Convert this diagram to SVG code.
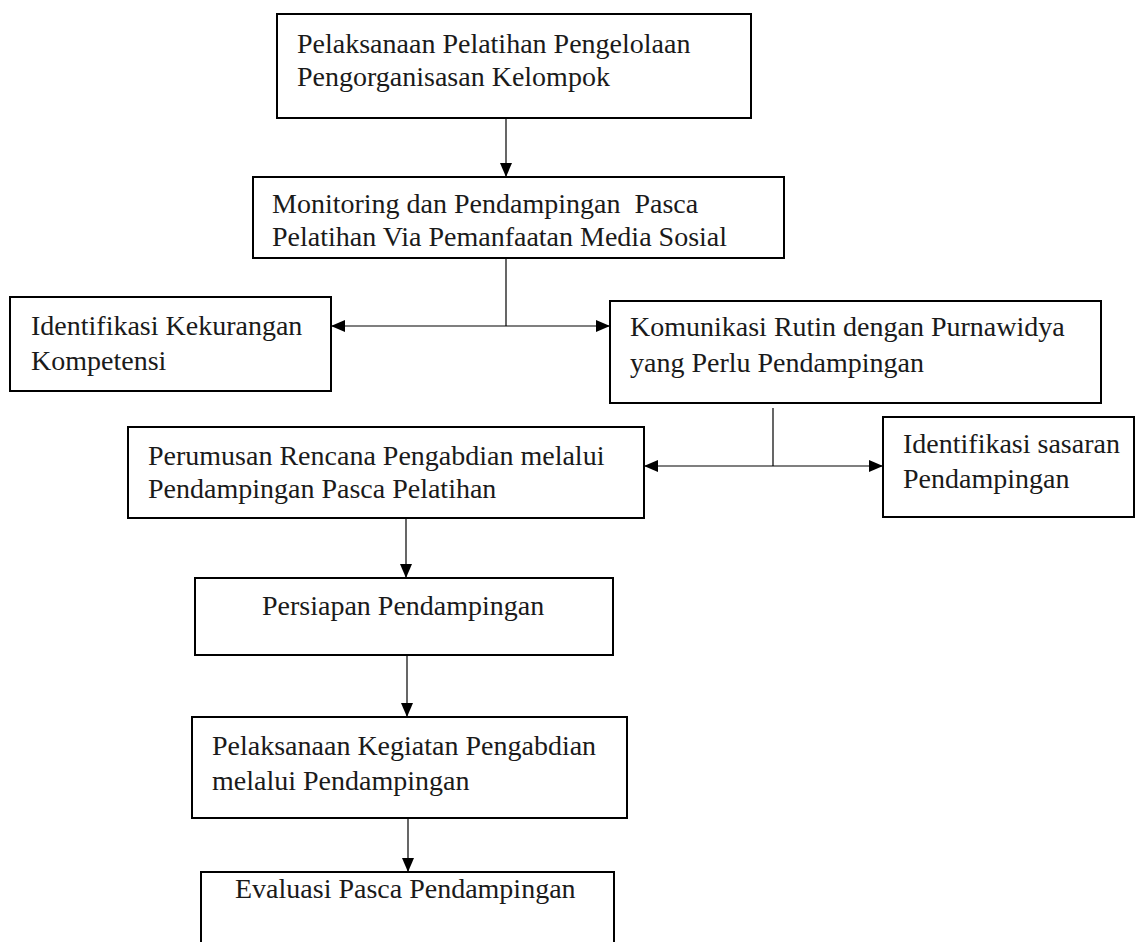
<svg xmlns="http://www.w3.org/2000/svg" width="1138" height="942" viewBox="0 0 1138 942">
<style>
.box{fill:#fff;stroke:#000;stroke-width:2}
.t{font-family:"Liberation Serif","Times New Roman",serif;font-size:28px;fill:#1a1a1a}
.c{fill:none;stroke:#000;stroke-width:1.2}
</style>
<defs>
<marker id="ah" viewBox="0 0 14 12" refX="14" refY="6" markerWidth="14" markerHeight="12" markerUnits="userSpaceOnUse" orient="auto-start-reverse">
<path d="M0,0 L14,6 L0,12 z" fill="#000"/>
</marker>
</defs>
<rect width="1138" height="942" fill="#fff"/>
<g id="n1"><rect class="box" x="277" y="14" width="474" height="104"/>
<text class="t" x="297" y="53">Pelaksanaan Pelatihan Pengelolaan</text>
<text class="t" x="297" y="86">Pengorganisasan Kelompok</text></g>
<g id="n2"><rect class="box" x="253" y="177" width="531" height="81"/>
<text class="t" x="272" y="213" xml:space="preserve">Monitoring dan Pendampingan  Pasca</text>
<text class="t" x="272" y="246">Pelatihan Via Pemanfaatan Media Sosial</text></g>
<g id="n3"><rect class="box" x="10" y="297" width="321" height="94"/>
<text class="t" x="31" y="335">Identifikasi Kekurangan</text>
<text class="t" x="31" y="370">Kompetensi</text></g>
<g id="n4"><rect class="box" x="610" y="301" width="491" height="102"/>
<text class="t" x="630" y="336">Komunikasi Rutin dengan Purnawidya</text>
<text class="t" x="630" y="372">yang Perlu Pendampingan</text></g>
<g id="n5"><rect class="box" x="128" y="427" width="516" height="91"/>
<text class="t" x="148" y="465">Perumusan Rencana Pengabdian melalui</text>
<text class="t" x="148" y="498">Pendampingan Pasca Pelatihan</text></g>
<g id="n6"><rect class="box" x="883" y="417" width="251" height="100"/>
<text class="t" x="903" y="453">Identifikasi sasaran</text>
<text class="t" x="903" y="488">Pendampingan</text></g>
<g id="n7"><rect class="box" x="195" y="578" width="418" height="77"/>
<text class="t" x="262" y="615">Persiapan Pendampingan</text></g>
<g id="n8"><rect class="box" x="192" y="717" width="435" height="101"/>
<text class="t" x="212" y="755">Pelaksanaan Kegiatan Pengabdian</text>
<text class="t" x="212" y="790">melalui Pendampingan</text></g>
<g id="n9"><rect class="box" x="201" y="872" width="413" height="80"/>
<text class="t" x="235" y="898">Evaluasi Pasca Pendampingan</text></g>
<g id="connectors">
<line class="c" x1="506" y1="118" x2="506" y2="177" marker-end="url(#ah)"/>
<line class="c" x1="506" y1="258" x2="506" y2="326"/>
<line class="c" x1="331" y1="326" x2="610" y2="326" marker-start="url(#ah)" marker-end="url(#ah)"/>
<line class="c" x1="773" y1="408" x2="773" y2="466"/>
<line class="c" x1="644" y1="466" x2="883" y2="466" marker-start="url(#ah)" marker-end="url(#ah)"/>
<line class="c" x1="406" y1="518" x2="406" y2="578" marker-end="url(#ah)"/>
<line class="c" x1="407" y1="655" x2="407" y2="717" marker-end="url(#ah)"/>
<line class="c" x1="408" y1="818" x2="408" y2="872" marker-end="url(#ah)"/>
</g>
</svg>
